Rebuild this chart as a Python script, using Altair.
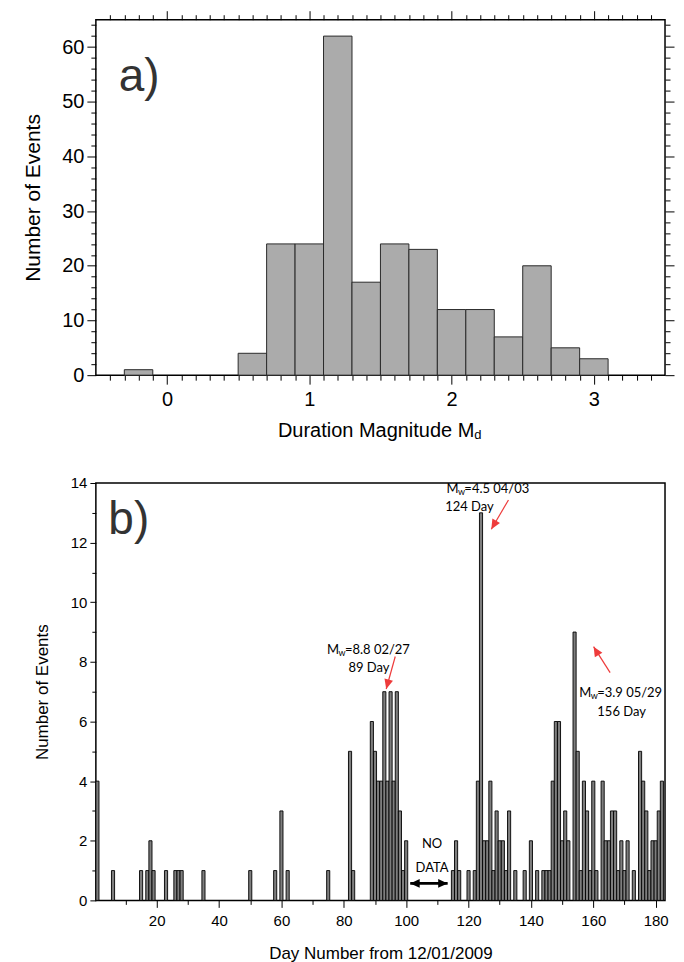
import altair as alt
import pandas as pd

FONT = "Liberation Sans, Arial, Helvetica, sans-serif"
ANN_FONT = "Lato, Open Sans, sans-serif"

# ---------------- panel a) : histogram of duration magnitude ----------------
md_bin_start = [-0.3, 0.5, 0.7, 0.9, 1.1, 1.3, 1.5, 1.7, 1.9, 2.1, 2.3, 2.5, 2.7, 2.9]
md_counts = [1, 4, 24, 24, 62, 17, 24, 23, 12, 12, 7, 20, 5, 3]
MD_BIN_WIDTH = 0.2
md_major = [0, 1, 2, 3]
md_minor = [round(-0.4 + 0.1 * i, 1) for i in range(39)]
md_minor = [v for v in md_minor if v not in md_major]
count_a_major = [0, 10, 20, 30, 40, 50, 60]
count_a_minor = [v for v in range(2, 65, 2) if v % 10 != 0]

# ---------------- panel b) : events per day ----------------
event_days = [1, 6, 15, 17, 18, 19, 23, 26, 27, 28,
              35, 50, 58, 60, 62, 75, 82, 83,
              89, 90, 91, 92, 93, 94, 95, 96, 97, 98, 99, 100,
              115, 116, 117, 120, 122, 123, 124, 125, 126, 127,
              128, 129, 130, 131, 132, 133, 135, 138, 140, 142,
              144, 145, 146, 147, 148, 149, 150, 151, 152, 154,
              155, 156, 157, 158, 159, 160, 161, 163, 164, 165,
              166, 167, 168, 169, 170, 171, 173, 175, 176, 177,
              178, 179, 180, 181, 182]
event_counts = [4, 1, 1, 1, 2, 1, 1, 1, 1, 1,
                1, 1, 1, 3, 1, 1, 5, 1,
                6, 5, 4, 4, 7, 4, 7, 4, 7, 3, 1, 2,
                1, 2, 1, 1, 1, 4, 13, 2, 2, 4,
                1, 3, 2, 2, 1, 3, 1, 1, 2, 1,
                1, 1, 1, 4, 6, 6, 2, 3, 2, 9,
                5, 1, 4, 3, 1, 4, 1, 4, 2, 2,
                3, 3, 1, 2, 1, 2, 1, 5, 4, 3,
                1, 2, 2, 3, 4]
day_major = [20, 40, 60, 80, 100, 120, 140, 160, 180]
day_minor = [10, 30, 50, 70, 90, 110, 130, 150, 170]
count_b_major = [0, 2, 4, 6, 8, 10, 12, 14]
count_b_minor = [1, 3, 5, 7, 9, 11, 13]

# annotations (panel b)
ann_x = [74.6, 112.9, 155.5]
ann_y = [8.41, 13.8, 6.97]
ann_rest = ["=8.8 02/27", "=4.5 04/03", "=3.9 05/29"]
ann2_x = [81.5, 112.5, 161.3]
ann2_y = [7.81, 13.18, 6.33]
ann2_text = ["89 Day", "124 Day", "156 Day"]
arrow_x = [96.5, 132.8, 165.4]
arrow_y = [8.18, 13.43, 7.64]
arrow_x2 = [93.6, 127.3, 160.1]
arrow_y2 = [7.09, 12.45, 8.51]
arrow_angle = [195, 210, 329]
nodata_x = [101.3, 113.3]
nodata_y = [0.57, 0.57]
nodata_angle = [270, 90]

W = 570
HA = 356
HB = 418


def tick_axis(orient, values, size):
    return alt.Axis(orient=orient, values=values, tickSize=size, labels=False,
                    domain=False, grid=False, tickColor="black", tickWidth=1,
                    title=None)


# ---------------- chart a ----------------
df_a = pd.DataFrame({"start": md_bin_start, "count": md_counts})
df_a["end"] = df_a["start"] + MD_BIN_WIDTH

xa = alt.Scale(domain=[-0.5, 3.5], nice=False, zero=False)
ya = alt.Scale(domain=[0, 65], nice=False)

a_main = alt.Chart(df_a).mark_bar(fill="#ababab", stroke="#2a2a2a", strokeWidth=1).encode(
    x=alt.X("start:Q", scale=xa, axis=alt.Axis(
        orient="bottom", values=md_major, tickSize=9, labelFontSize=20, labelFont=FONT,
        labelPadding=5, labelColor="black", domain=False, grid=False, tickColor="black",
        tickWidth=1, title=None, format="d")),
    x2="end:Q",
    y=alt.Y("count:Q", scale=ya, axis=alt.Axis(
        orient="left", values=count_a_major, tickSize=9, labelFontSize=20, labelFont=FONT,
        labelPadding=3, labelColor="black", domain=False, grid=False, tickColor="black",
        tickWidth=1, title="Number of Events", titleFont=FONT, titleFontSize=21,
        titleFontWeight="normal", titleColor="black", titlePadding=18)),
    y2=alt.datum(0),
)


def ghost_a(xaxis, yaxis):
    return alt.Chart(df_a).mark_bar(opacity=0).encode(
        x=alt.X("start:Q", scale=xa, axis=xaxis), x2="end:Q",
        y=alt.Y("count:Q", scale=ya, axis=yaxis), y2=alt.datum(0))


a_minor = ghost_a(tick_axis("bottom", md_minor, 5), tick_axis("left", count_a_minor, 5))
a_top = ghost_a(tick_axis("top", md_major, 9), tick_axis("right", count_a_major, 9))
a_top_minor = ghost_a(tick_axis("top", md_minor, 5), tick_axis("right", count_a_minor, 5))

a_label = alt.Chart(pd.DataFrame({"x": [-0.34], "y": [54.5], "t": ["a)"]})).mark_text(
    align="left", baseline="middle", fontSize=46, font=FONT, color="#333333").encode(
    x=alt.X("x:Q", scale=xa, axis=None), y=alt.Y("y:Q", scale=ya, axis=None), text="t:N")

title_df = pd.DataFrame({"x": [2.16], "t": ["Duration Magnitude M"], "s": ["d"]})
a_xtitle = alt.Chart(title_df).mark_text(
    align="right", baseline="middle", fontSize=20, font=FONT, color="black").encode(
    x=alt.X("x:Q", scale=xa, axis=None), y=alt.value(HA + 56), text="t:N")
a_xtitle_sub = alt.Chart(title_df).mark_text(
    align="left", baseline="middle", fontSize=13, font=FONT, color="black", dy=4).encode(
    x=alt.X("x:Q", scale=xa, axis=None), y=alt.value(HA + 56), text="s:N")

chart_a = alt.layer(a_main, a_minor, a_top, a_top_minor, a_label, a_xtitle, a_xtitle_sub).resolve_axis(
    x="independent", y="independent").properties(width=W, height=HA)

# ---------------- chart b ----------------
df_b = pd.DataFrame({"day": event_days, "count": event_counts})
df_b["d0"] = df_b["day"] - 0.5
df_b["d1"] = df_b["day"] + 0.5

xb = alt.Scale(domain=[0.5, 183], nice=False, zero=False)
yb = alt.Scale(domain=[0, 14], nice=False)

b_main = alt.Chart(df_b).mark_bar(fill="#7e7e7e", stroke="black", strokeWidth=0.9).encode(
    x=alt.X("d0:Q", scale=xb, axis=alt.Axis(
        orient="bottom", values=day_major, tickSize=7, labelFontSize=15, labelFont=FONT,
        labelPadding=6, labelColor="black", domain=False, grid=False, tickColor="black",
        tickWidth=1, title="Day Number from 12/01/2009", titleFont=FONT, titleFontSize=17,
        titleFontWeight="normal", titleColor="black", titlePadding=17)),
    x2="d1:Q",
    y=alt.Y("count:Q", scale=yb, axis=alt.Axis(
        orient="left", values=count_b_major, tickSize=6, labelFontSize=15, labelFont=FONT,
        labelPadding=3, labelColor="black", domain=False, grid=False, tickColor="black",
        tickWidth=1, title="Number of Events", titleFont=FONT, titleFontSize=17,
        titleFontWeight="normal", titleColor="black", titlePadding=19)),
    y2=alt.datum(0),
)

b_minor = alt.Chart(df_b).mark_bar(opacity=0).encode(
    x=alt.X("d0:Q", scale=xb, axis=tick_axis("bottom", day_minor, 4)), x2="d1:Q",
    y=alt.Y("count:Q", scale=yb, axis=tick_axis("left", count_b_minor, 4)), y2=alt.datum(0))

b_label = alt.Chart(pd.DataFrame({"x": [4.5], "y": [12.76], "t": ["b)"]})).mark_text(
    align="left", baseline="middle", fontSize=46, font=FONT, color="#333333").encode(
    x=alt.X("x:Q", scale=xb, axis=None), y=alt.Y("y:Q", scale=yb, axis=None), text="t:N")

ann_df = pd.DataFrame({"x": ann_x, "y": ann_y, "rest": ann_rest,
                       "m": ["M"] * 3, "w": ["w"] * 3})
ann_m = alt.Chart(ann_df).mark_text(align="left", baseline="middle", fontSize=13,
                                    font=ANN_FONT, color="black").encode(
    x=alt.X("x:Q", scale=xb, axis=None), y=alt.Y("y:Q", scale=yb, axis=None), text="m:N")
ann_w = alt.Chart(ann_df).mark_text(align="left", baseline="middle", fontSize=9,
                                    font=ANN_FONT, color="black", dx=11.5, dy=3).encode(
    x=alt.X("x:Q", scale=xb, axis=None), y=alt.Y("y:Q", scale=yb, axis=None), text="w:N")
ann_r = alt.Chart(ann_df).mark_text(align="left", baseline="middle", fontSize=13,
                                    font=ANN_FONT, color="black", dx=18).encode(
    x=alt.X("x:Q", scale=xb, axis=None), y=alt.Y("y:Q", scale=yb, axis=None), text="rest:N")
ann2 = alt.Chart(pd.DataFrame({"x": ann2_x, "y": ann2_y, "t": ann2_text})).mark_text(
    align="left", baseline="middle", fontSize=13, font=ANN_FONT, color="black").encode(
    x=alt.X("x:Q", scale=xb, axis=None), y=alt.Y("y:Q", scale=yb, axis=None), text="t:N")

arr_df = pd.DataFrame({"x": arrow_x, "y": arrow_y, "x2": arrow_x2, "y2": arrow_y2,
                       "a": arrow_angle})
arr_line = alt.Chart(arr_df).mark_rule(color="#ee3b3b", strokeWidth=1.2).encode(
    x=alt.X("x:Q", scale=xb, axis=None), y=alt.Y("y:Q", scale=yb, axis=None),
    x2="x2:Q", y2="y2:Q")
ARROW_HEAD = "M0,0L-0.45,1L0.45,1Z"
arr_head = alt.Chart(arr_df).mark_point(shape=ARROW_HEAD, filled=True, fill="#ee3b3b",
                                        opacity=1, size=380, strokeWidth=0).encode(
    x=alt.X("x2:Q", scale=xb, axis=None), y=alt.Y("y2:Q", scale=yb, axis=None),
    angle=alt.Angle("a:Q", scale=None))

nd_df = pd.DataFrame({"x": nodata_x, "y": nodata_y, "a": nodata_angle})
nd_line = alt.Chart(nd_df).mark_line(color="black", strokeWidth=2.6).encode(
    x=alt.X("x:Q", scale=xb, axis=None), y=alt.Y("y:Q", scale=yb, axis=None))
nd_head = alt.Chart(nd_df).mark_point(shape=ARROW_HEAD, filled=True, fill="black",
                                      opacity=1, size=360, strokeWidth=0).encode(
    x=alt.X("x:Q", scale=xb, axis=None), y=alt.Y("y:Q", scale=yb, axis=None),
    angle=alt.Angle("a:Q", scale=None))
nd_text = alt.Chart(pd.DataFrame({"x": [108.3, 108.3], "y": [1.88, 1.1],
                                  "t": ["NO", "DATA"]})).mark_text(
    align="center", baseline="middle", fontSize=13, font=ANN_FONT, color="black").encode(
    x=alt.X("x:Q", scale=xb, axis=None), y=alt.Y("y:Q", scale=yb, axis=None), text="t:N")

chart_b = alt.layer(b_main, b_minor, b_label, ann_m, ann_w, ann_r, ann2, arr_line, arr_head,
                    nd_line, nd_head, nd_text).resolve_axis(
    x="independent", y="independent").properties(width=W, height=HB)

chart = alt.vconcat(chart_a, chart_b, spacing=32).properties(
    padding={"left": 14, "top": 0, "right": 0, "bottom": 0}, background="white"
).configure_view(stroke="black", strokeWidth=1.5)

chart.save("out.html", embed_options={"renderer": "svg", "actions": False})
